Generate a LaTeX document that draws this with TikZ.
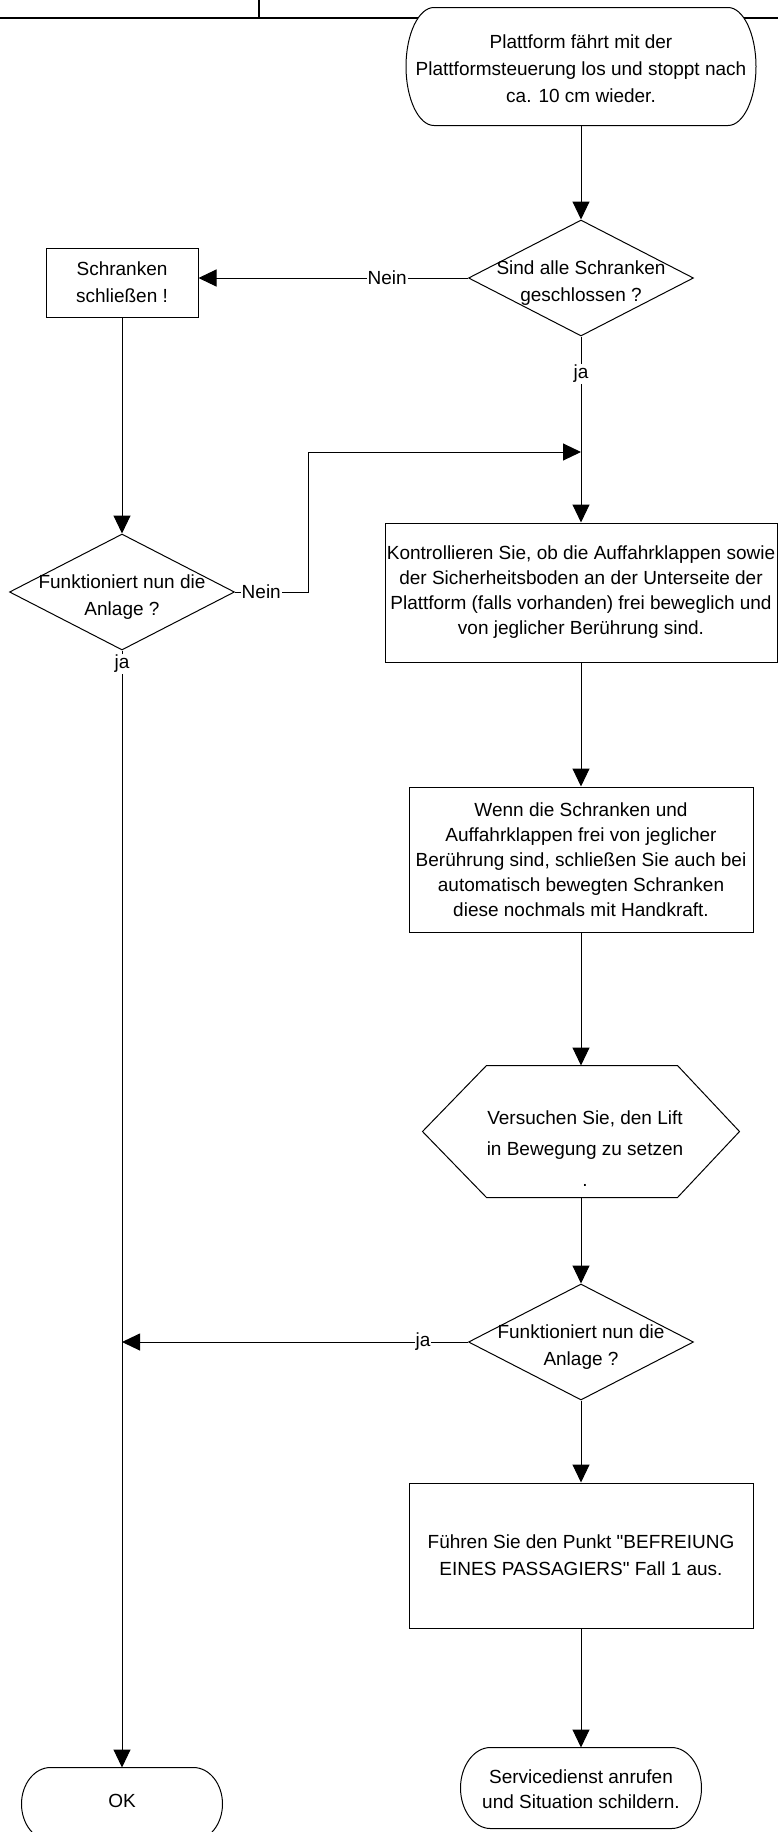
\documentclass[tikz,border=0pt]{standalone}
\usepackage{fontspec}
\setmainfont[Ligatures=TeXOff]{Liberation Sans}
\usetikzlibrary{shapes.geometric,arrows.meta,calc}
\newcommand\termoutline[2]{%
  \draw[fill=white] ([xshift=#2pt]#1.north west) -- ([xshift=-#2pt]#1.north east)
    .. controls ([xshift={-0.45*#2pt}]#1.north east) and ($(#1.east)!0.55!(#1.north east)$) .. (#1.east)
    .. controls ($(#1.east)!0.55!(#1.south east)$) and ([xshift={-0.45*#2pt}]#1.south east) .. ([xshift=-#2pt]#1.south east)
    -- ([xshift=#2pt]#1.south west)
    .. controls ([xshift={0.45*#2pt}]#1.south west) and ($(#1.west)!0.55!(#1.south west)$) .. (#1.west)
    .. controls ($(#1.west)!0.55!(#1.north west)$) and ([xshift={0.45*#2pt}]#1.north west) .. ([xshift=#2pt]#1.north west)
    -- cycle;}
\begin{document}
\begin{tikzpicture}[x=1pt,y=-1pt,
  font=\fontsize{19}{25}\selectfont,
  line width=1pt,
  arr/.style={-{Triangle[length=18pt,width=17pt]}},
  box/.style={draw, rectangle, inner sep=0pt, align=center},
  term/.style={rectangle, inner sep=0pt, align=center},
  dec/.style={draw, diamond, inner sep=0pt, minimum width=225pt, minimum height=116pt},
  lbl/.style={fill=white, inner sep=1pt},
  every label/.style={align=center, inner sep=0pt},
  wide/.style={font=\fontsize{19}{27}\selectfont}
]
\useasboundingbox (0,0) rectangle (778,1832);
% header rule
\coordinate (ruleL) at (0,18);
\coordinate (ruleR) at (778,18);
\coordinate (tickT) at (259,0);
\draw[line width=2pt] (ruleL) -- (ruleR);
\draw[line width=1.2pt] (tickT) -- (tickT |- ruleL);

% terminators (outline drawn first, text on top)
\node[term, minimum width=349pt, minimum height=117pt] (start) at (581,66.5) {};
\termoutline{start}{28}
\node[wide, align=center] (startT) at (581,68.5) {Plattform fährt mit der\\Plattformsteuerung los und stoppt nach\\ca. 10 cm wieder.};
\node[term, minimum width=240pt, minimum height=80pt] (s) at (581,1788) {};
\termoutline{s}{30}
\node[align=center] (sT) at (581,1789) {Servicedienst anrufen\\und Situation schildern.};
\node[term, minimum width=200pt, minimum height=72pt] (ok) at (122,1804) {};
\termoutline{ok}{29}
\node (okT) at (122,1801) {OK};

% other nodes
\node[dec, label={[wide, yshift=-5pt]center:Sind alle Schranken\\geschlossen ?}] (d1) at (581,278) {};
\node[box, wide, minimum width=152pt, minimum height=69pt] (b1) at (122,282.5) {Schranken\\schließen !};
\node[dec, label={[wide, yshift=-5pt]center:Funktioniert nun die\\Anlage ?}] (d2) at (122,592) {};
\node[box, minimum width=392pt, minimum height=139pt] (k) at (581,592.5)
  {Kontrollieren Sie, ob die Auffahrklappen sowie\\der Sicherheitsboden an der Unterseite der\\Plattform (falls vorhanden) frei beweglich und\\von jeglicher Berührung sind.};
\node[box, minimum width=344pt, minimum height=145pt] (w) at (581,859.5)
  {Wenn die Schranken und\\Auffahrklappen frei von jeglicher\\Berührung sind, schließen Sie auch bei\\automatisch bewegten Schranken\\diese nochmals mit Handkraft.};
\node[rectangle, inner sep=0pt, minimum width=316pt, minimum height=131pt] (hex) at (581,1131.5) {};
\draw (hex.west) -- ([xshift=64pt]hex.north west) -- ([xshift=-62pt]hex.north east) -- (hex.east)
  -- ([xshift=-62pt]hex.south east) -- ([xshift=64pt]hex.south west) -- cycle;
\node[align=center, font=\fontsize{19}{31}\selectfont] (hext) at (585,1149) {Versuchen Sie, den Lift\\in Bewegung zu setzen\\.};
\node[dec, label={[wide, yshift=-5pt]center:Funktioniert nun die\\Anlage ?}] (d3) at (581,1342) {};
\node[box, wide, minimum width=344pt, minimum height=145pt] (f) at (581,1555.5)
  {Führen Sie den Punkt "BEFREIUNG\\EINES PASSAGIERS" Fall 1 aus.};

% connectors
\coordinate (m1) at (308,452);
\coordinate (m2) at (581,452);
\draw[arr] (start.south) -- (d1.north);
\draw[arr] (d1.west) -- node[lbl, pos=0.3]{Nein} (d1.west -| b1.east);
\draw[arr] (d1.south) -- node[lbl, pos=0.2]{ja} (k.north);
\draw[arr] (b1.south) -- (d2.north);
\draw[arr] (d2.east) -- node[lbl, pos=0.36]{Nein} (d2.east -| m1) -- (m1) -- (m2);
\draw[arr] (d2.south) -- node[lbl, pos=0.012]{ja} (ok.north);
\draw[arr] (k.south) -- (w.north);
\draw[arr] (w.south) -- (hex.north);
\draw[arr] (hex.south) -- (d3.north);
\draw[arr] (d3.west) -- node[lbl, pos=0.13]{ja} (d3.west -| ok.north);
\draw[arr] (d3.south) -- (f.north);
\draw[arr] (f.south) -- (s.north);
\end{tikzpicture}
\end{document}
